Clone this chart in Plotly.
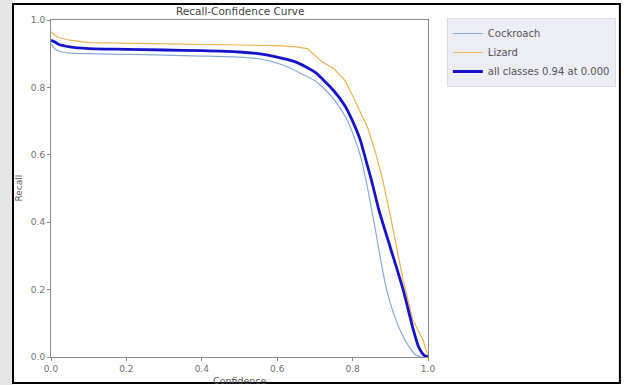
import plotly.graph_objects as go

# ---- data ----
cockroach_conf = [0.0, 0.01, 0.02, 0.05, 0.1, 0.2, 0.3, 0.4, 0.5, 0.55, 0.6, 0.63, 0.66, 0.7, 0.73, 0.75, 0.78, 0.8,
                  0.82, 0.84, 0.86, 0.875, 0.89, 0.91, 0.93, 0.95, 0.965, 0.98, 1.0]
cockroach_recall = [0.93, 0.915, 0.908, 0.902, 0.90, 0.898, 0.896, 0.893, 0.89, 0.885, 0.872, 0.86, 0.843, 0.82,
                    0.79, 0.765, 0.715, 0.665, 0.60, 0.50, 0.38, 0.285, 0.20, 0.125, 0.07, 0.03, 0.008, 0.0, 0.0]

lizard_conf = [0.0, 0.01, 0.02, 0.05, 0.1, 0.2, 0.3, 0.4, 0.5, 0.6, 0.65, 0.68, 0.70, 0.72, 0.75, 0.78, 0.8,
               0.82, 0.84, 0.86, 0.88, 0.9, 0.91, 0.934, 0.96, 0.987, 1.0]
lizard_recall = [0.965, 0.955, 0.948, 0.94, 0.933, 0.931, 0.930, 0.928, 0.926, 0.924, 0.920, 0.915, 0.895, 0.875,
                 0.856, 0.82, 0.775, 0.73, 0.68, 0.61, 0.525, 0.42, 0.36, 0.228, 0.11, 0.05, 0.0]

all_conf = [0.0, 0.01, 0.02, 0.05, 0.1, 0.2, 0.3, 0.4, 0.5, 0.55, 0.6, 0.65, 0.7, 0.75, 0.78, 0.8, 0.82,
            0.84, 0.85, 0.87, 0.9, 0.934, 0.96, 0.975, 0.99, 1.0]
all_recall = [0.94, 0.935, 0.928, 0.92, 0.915, 0.913, 0.911, 0.909, 0.905, 0.90, 0.89, 0.875, 0.845, 0.79,
              0.745, 0.70, 0.645, 0.565, 0.525, 0.435, 0.325, 0.20, 0.085, 0.03, 0.005, 0.0]

series_names = ["Cockroach", "Lizard", "all classes 0.94 at 0.000"]
tick_vals = [0.0, 0.2, 0.4, 0.6, 0.8, 1.0]
tick_text = ["0.0", "0.2", "0.4", "0.6", "0.8", "1.0"]

fig = go.Figure()
fig.add_trace(go.Scatter(x=cockroach_conf, y=cockroach_recall, mode="lines", name=series_names[0],
                         line=dict(color="#86abd6", width=1.2, shape="spline", smoothing=0.4)))
fig.add_trace(go.Scatter(x=lizard_conf, y=lizard_recall, mode="lines", name=series_names[1],
                         line=dict(color="#f2b24e", width=1.2)))
fig.add_trace(go.Scatter(x=all_conf, y=all_recall, mode="lines", name=series_names[2],
                         line=dict(color="#1414cc", width=2.8, shape="spline", smoothing=0.6)))

axis_common = dict(range=[0, 1], tickvals=tick_vals, ticktext=tick_text, ticks="outside", ticklen=3,
                   tickcolor="#888", showline=True, linecolor="#888", linewidth=1, mirror=True,
                   showgrid=False, zeroline=False, tickfont=dict(size=9, color="#707070", family="DejaVu Sans"))

fig.update_layout(
    width=624, height=385,
    margin=dict(l=51, r=196, t=20, b=28, autoexpand=False),
    paper_bgcolor="white", plot_bgcolor="white",
    xaxis=axis_common, yaxis=axis_common,
    showlegend=True,
    legend=dict(x=1.05, y=1.006, xanchor="left", yanchor="top",
                bgcolor="rgba(236,236,244,0.95)", bordercolor="#dcdce6", borderwidth=1,
                font=dict(size=10, color="#555", family="DejaVu Sans"), tracegroupgap=0),
    font=dict(family="DejaVu Sans"),
)

fig.add_annotation(text="Recall-Confidence Curve", xref="paper", yref="paper", x=0.5, y=1.027,
                   xanchor="center", yanchor="middle", showarrow=False,
                   font=dict(size=10.5, color="#444"))
fig.add_annotation(text="Confidence", xref="paper", yref="paper", x=0.5, y=-0.071,
                   xanchor="center", yanchor="middle", showarrow=False,
                   font=dict(size=9.5, color="#555"))
fig.add_annotation(text="Recall", xref="paper", yref="paper", x=-0.0875, y=0.5, textangle=-90,
                   xanchor="center", yanchor="middle", showarrow=False,
                   font=dict(size=9, color="#555"))

# outer page strip and screenshot frame
fig.add_shape(type="rect", xref="paper", yref="paper", x0=-0.14, x1=-0.1008, y0=-0.1, y1=1.07,
              fillcolor="#e6e6e6", line=dict(width=0), layer="below")
fig.add_shape(type="rect", xref="paper", yref="paper", x0=-0.1008, x1=1.509, y0=-0.0772, y1=1.0475,
              fillcolor="rgba(0,0,0,0)", line=dict(color="black", width=2))

fig.write_html("out.html")
